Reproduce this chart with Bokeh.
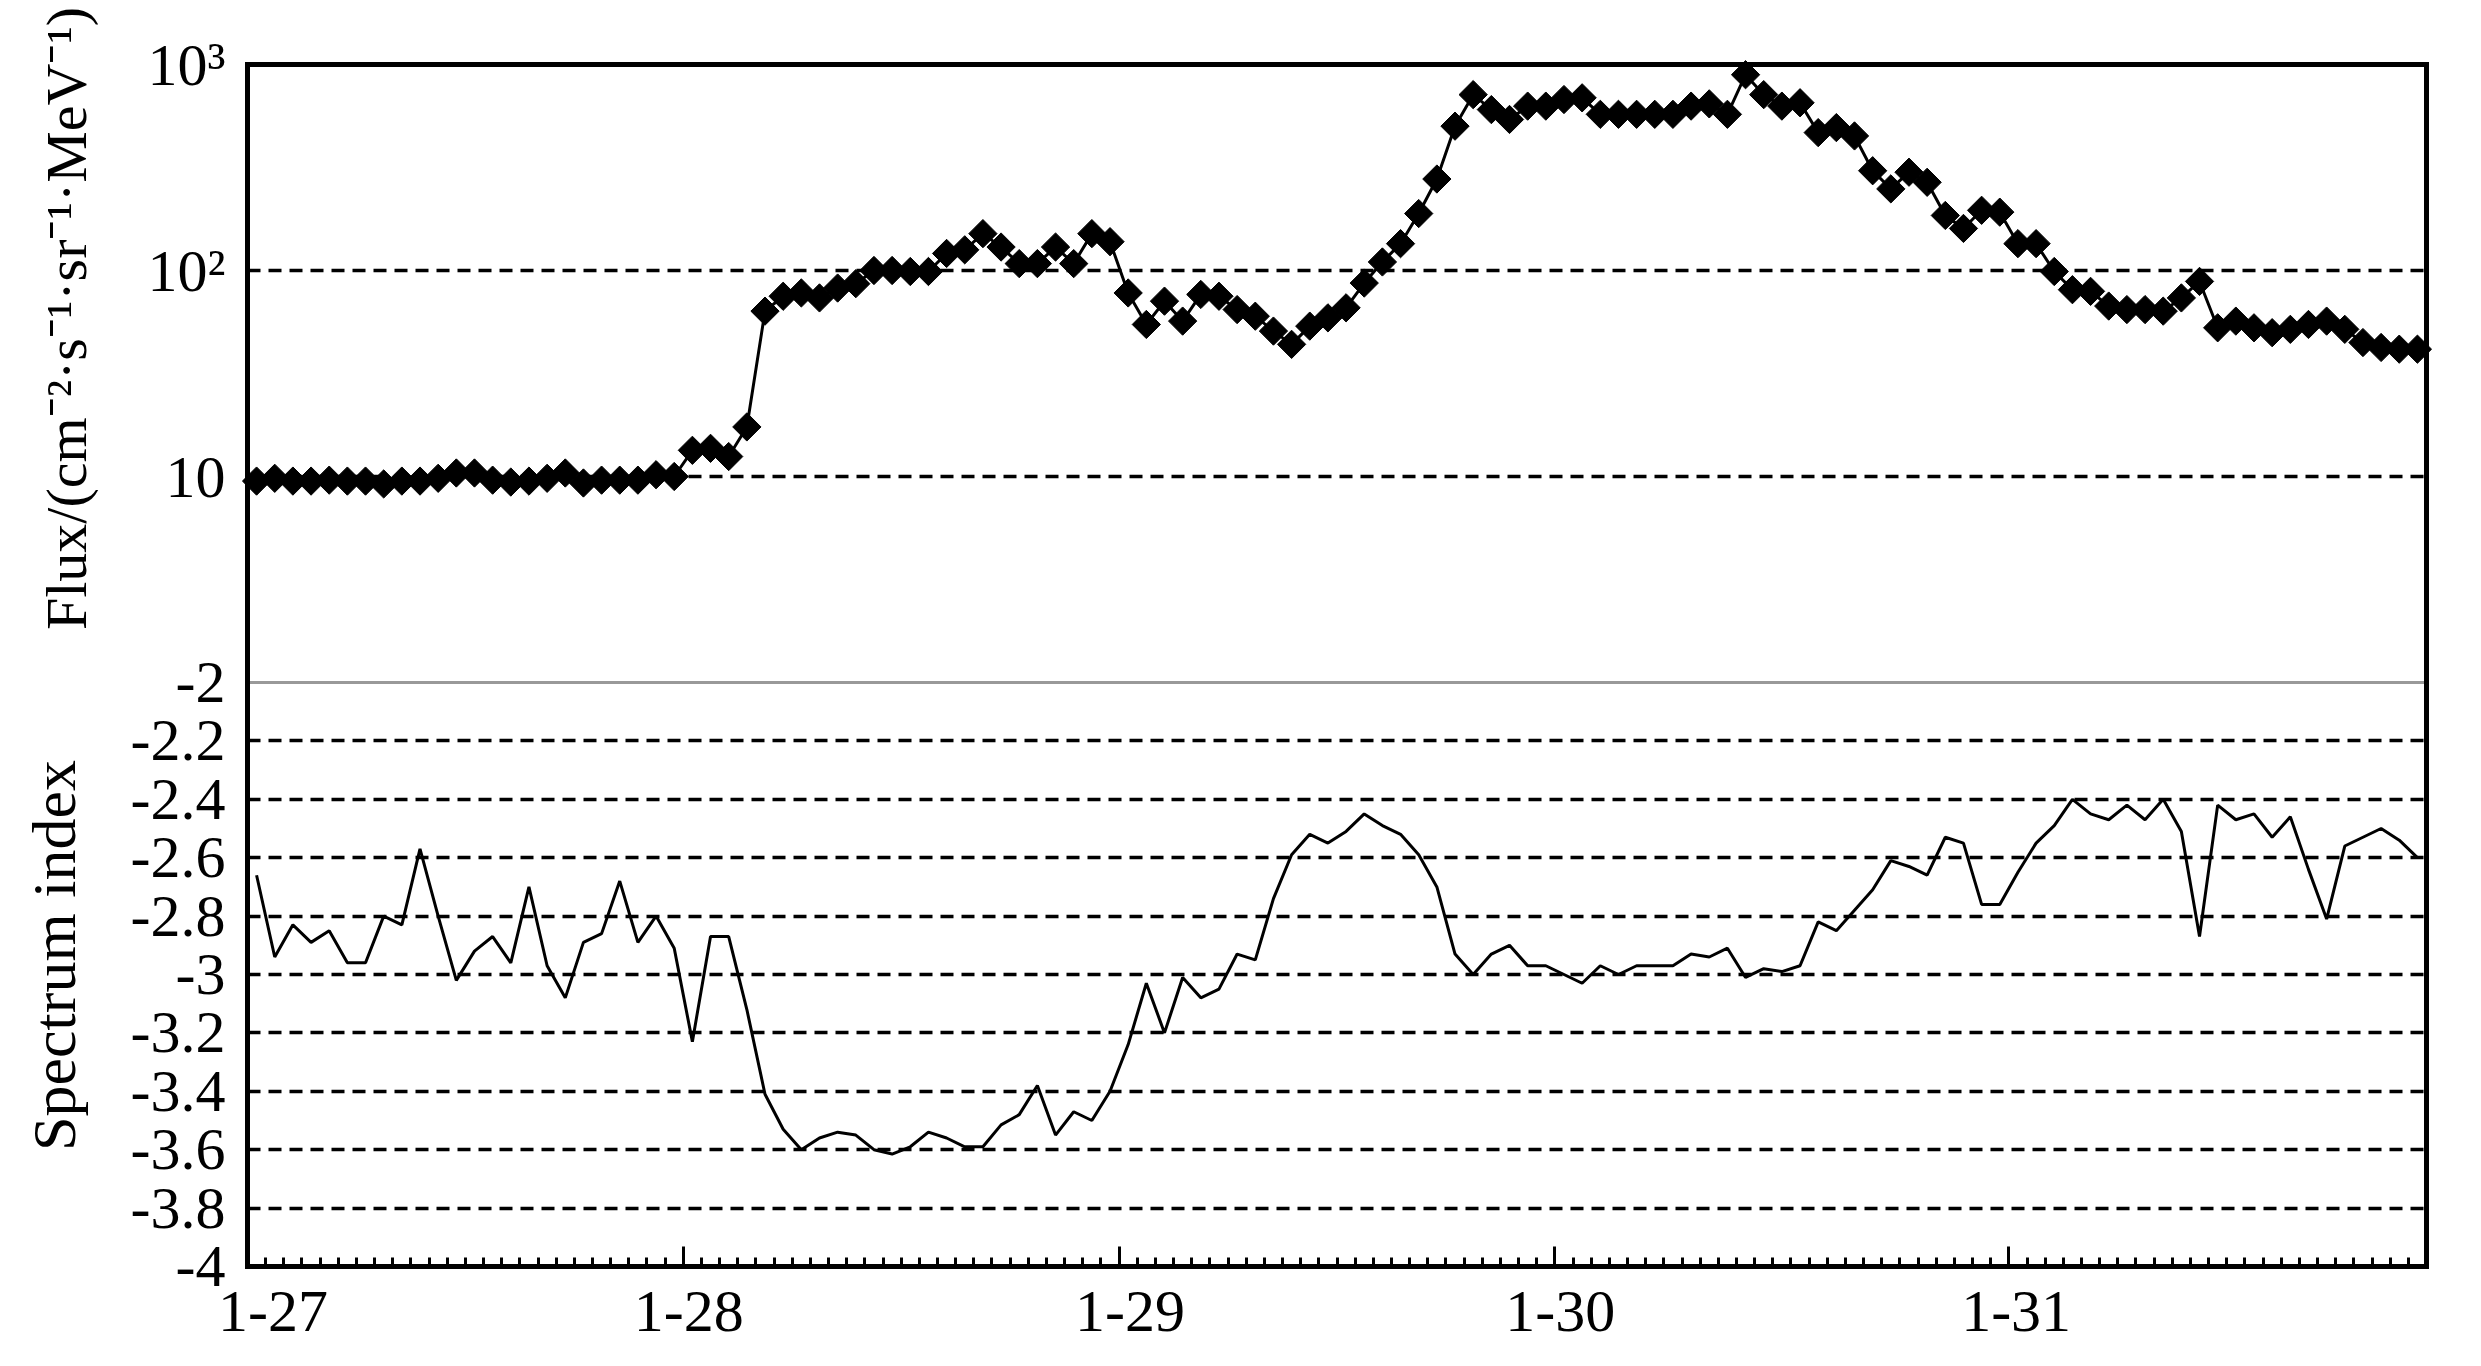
import math
from bokeh.plotting import figure
from bokeh.models import Range1d, FixedTicker, LinearAxis, LogAxis, LogScale, Grid, Label
from bokeh.embed import file_html
from bokeh.resources import INLINE

# ---------------- data (hourly, 1-27 00:00 .. 1-31 23:00) ----------------
hours = list(range(120))

flux = [
    9.5, 9.8, 9.5, 9.5, 9.6, 9.5, 9.5, 9.2, 9.5, 9.5,
    9.8, 10.4, 10.4, 9.6, 9.4, 9.5, 9.8, 10.4, 9.3, 9.6,
    9.6, 9.6, 10.2, 10.0, 13.4, 13.7, 12.5, 17.4, 63.5, 75,
    77.8, 73.6, 82.2, 86.3, 100, 100, 98.9, 98.9, 121, 126,
    151, 130, 108, 108, 130, 108, 151, 138, 77.8, 54.7,
    71, 56.8, 76.5, 75, 64.6, 60, 50.8, 43.8, 53.7, 58.9,
    65.9, 86.9, 110, 135, 189, 278, 502, 714, 604, 541,
    628, 628, 676, 689, 573, 573, 573, 573, 573, 628,
    644, 573, 892, 714, 628, 652, 467, 494, 450, 305,
    249, 300, 268, 185, 160, 196, 192, 135, 135, 98.9,
    80.7, 79.2, 67.2, 64.6, 64.6, 63.5, 73.6, 88.5, 52.7, 56.8,
    52.7, 49.9, 51.8, 54.7, 56.8, 51.8, 44.7, 42.3, 41.5, 41.5,
]

spectrum_index = [
    -2.66, -2.94, -2.83, -2.89, -2.85, -2.96, -2.96, -2.80, -2.83, -2.57,
    -2.80, -3.02, -2.92, -2.87, -2.96, -2.70, -2.97, -3.08, -2.89, -2.86,
    -2.68, -2.89, -2.80, -2.91, -3.23, -2.87, -2.87, -3.12, -3.41, -3.53,
    -3.60, -3.56, -3.54, -3.55, -3.60, -3.615, -3.59, -3.54, -3.56, -3.59,
    -3.59, -3.515, -3.48, -3.38, -3.55, -3.47, -3.50, -3.40, -3.24, -3.03,
    -3.20, -3.01, -3.08, -3.05, -2.93, -2.95, -2.74, -2.59, -2.52, -2.55,
    -2.51, -2.45, -2.49, -2.52, -2.59, -2.70, -2.93, -3.00, -2.93, -2.90,
    -2.97, -2.97, -3.00, -3.03, -2.97, -3.00, -2.97, -2.97, -2.97, -2.93,
    -2.94, -2.91, -3.01, -2.98, -2.99, -2.97, -2.82, -2.85, -2.78, -2.71,
    -2.61, -2.63, -2.66, -2.53, -2.55, -2.76, -2.76, -2.65, -2.55, -2.49,
    -2.40, -2.45, -2.47, -2.42, -2.47, -2.40, -2.51, -2.87, -2.42, -2.47,
    -2.45, -2.53, -2.46, -2.64, -2.81, -2.56, -2.53, -2.50, -2.54, -2.60,
]

day_ticks = [0, 24, 48, 72, 97]                 # day boundaries (hours)
day_label_pos = [1.4, 24.3, 48.6, 72.3, 97.4]   # where the day labels sit
day_labels = ["1-27", "1-28", "1-29", "1-30", "1-31"]

flux_ticks = [10, 100, 1000]
flux_labels = ["10", "10\u00b2", "10\u00b3"]
flux_grid = [10, 100]

idx_ticks = [-2.0, -2.2, -2.4, -2.6, -2.8, -3.0, -3.2, -3.4, -3.6, -3.8, -4.0]
idx_labels = ["-2", "-2.2", "-2.4", "-2.6", "-2.8", "-3", "-3.2", "-3.4", "-3.6", "-3.8", "-4"]
idx_grid = [-2.2, -2.4, -2.6, -2.8, -3.0, -3.2, -3.4, -3.6, -3.8]

flux_title = "Flux/(cm\u207b\u00b2\u00b7s\u207b\u00b9\u00b7sr\u207b\u00b9\u00b7MeV\u207b\u00b9)"
flux_title_at = 58.5      # flux value at the centre of the title
idx_title = "Spectrum index"
idx_title_at = -2.935     # index value at the centre of the title

# ---------------- layout constants (pixels) ----------------
FONT = "Liberation Serif"
TICK_FS = "60px"
FLUX_TITLE_FS = "58px"
IDX_TITLE_FS = "62px"
W, H = 2480, 1360                 # canvas; the frame covers all of it
X0 = 247                          # left edge of the chart box
PX_PER_HOUR = 2179 / 120
PX_PER_DECADE = 206
PX_PER_UNIT = 292
Y_SPLIT = 64 + 3 * PX_PER_DECADE  # flux = 1 / index = -2 boundary
FLUX_TITLE_X = 66                 # anchor of rotated titles
IDX_TITLE_X = 53

x_start = -X0 / PX_PER_HOUR
x_end = (W - X0) / PX_PER_HOUR
idx_top = -2 + Y_SPLIT / PX_PER_UNIT
idx_bottom = -2 - (H - Y_SPLIT) / PX_PER_UNIT
flux_top = 10 ** (Y_SPLIT / PX_PER_DECADE)
flux_bottom = 10 ** (-(H - Y_SPLIT) / PX_PER_DECADE)

x = [h + 0.5 for h in hours]
x_bounds = (0, 120)

p = figure(width=W, height=H, x_range=Range1d(x_start, x_end),
           y_range=Range1d(idx_bottom, idx_top), min_border=0,
           x_axis_location=None, y_axis_location=None,
           output_backend="svg", toolbar_location=None)
p.extra_y_ranges = {"flux": Range1d(flux_bottom, flux_top)}
p.extra_y_scales = {"flux": LogScale()}
p.outline_line_color = None
p.background_fill_color = "white"
p.border_fill_color = "white"
p.grid.visible = False


def style(ax, color="black", width=5):
    ax.axis_line_color = color
    ax.axis_line_width = width
    ax.axis_line_cap = "square"
    ax.major_tick_line_color = None
    ax.minor_tick_line_color = None
    ax.major_tick_in = 0
    ax.major_tick_out = 0
    ax.minor_tick_in = 0
    ax.minor_tick_out = 0
    ax.major_label_text_font = FONT
    ax.major_label_text_font_size = TICK_FS
    ax.major_label_text_color = "black"
    return ax


def bare(cls, **kw):
    return style(cls(ticker=FixedTicker(ticks=[], minor_ticks=[]), **kw))


# ---- grids (dashed)
p.add_layout(Grid(dimension=1, ticker=FixedTicker(ticks=idx_grid), cross_bounds=x_bounds,
                  grid_line_color="black", grid_line_width=3.5, grid_line_dash="13 8"))
p.add_layout(Grid(dimension=1, y_range_name="flux", ticker=FixedTicker(ticks=flux_grid),
                  cross_bounds=x_bounds, grid_line_color="black", grid_line_width=3.5,
                  grid_line_dash="13 8"))

# ---- grey separator at index -2 / flux 1
sep = bare(LinearAxis, fixed_location=-2, bounds=x_bounds)
sep.axis_line_color = "#999999"
sep.axis_line_width = 3
sep.axis_line_cap = "butt"
p.add_layout(sep, "above")

# ---- box: top and right
p.add_layout(bare(LinearAxis, y_range_name="flux", fixed_location=1000, bounds=x_bounds), "above")
p.add_layout(bare(LinearAxis, fixed_location=120, bounds=(-4, -2)), "right")
p.add_layout(bare(LogAxis, y_range_name="flux", fixed_location=120, bounds=(1, 1000)), "right")

# ---- left: spectrum-index axis and flux axis, both on the box edge
ya = style(LinearAxis(fixed_location=0, bounds=(-4, -2),
                      ticker=FixedTicker(ticks=idx_ticks, minor_ticks=[])))
ya.major_label_overrides = dict(zip(idx_ticks, idx_labels))
ya.major_label_standoff = 22
p.add_layout(ya, "left")

fa = style(LogAxis(y_range_name="flux", fixed_location=0, bounds=(1, 1000),
                   ticker=FixedTicker(ticks=flux_ticks, minor_ticks=[])))
fa.major_label_overrides = dict(zip(flux_ticks, flux_labels))
fa.major_label_standoff = 22
p.add_layout(fa, "left")

# ---- bottom: hourly minor ticks, day labels
xa = style(LinearAxis(fixed_location=-4, bounds=x_bounds,
                      ticker=FixedTicker(ticks=day_label_pos, minor_ticks=hours + [120])))
xa.major_label_overrides = dict(zip(day_label_pos, day_labels))
xa.major_label_standoff = 25
xa.minor_tick_line_color = "black"
xa.minor_tick_line_width = 3
xa.minor_tick_in = 9
p.add_layout(xa, "below")

xd = style(LinearAxis(fixed_location=-4, bounds=x_bounds,
                      ticker=FixedTicker(ticks=[], minor_ticks=day_ticks)))
xd.axis_line_color = None
xd.minor_tick_line_color = "black"
xd.minor_tick_line_width = 3
xd.minor_tick_in = 20
p.add_layout(xd, "below")

# ---- axis titles
p.add_layout(Label(x=FLUX_TITLE_X, x_units="screen", y=flux_title_at, y_range_name="flux",
                   text=flux_title, angle=math.pi / 2, text_align="center",
                   text_baseline="alphabetic", text_font=FONT,
                   text_font_size=FLUX_TITLE_FS, text_color="black"))
p.add_layout(Label(x=IDX_TITLE_X, x_units="screen", y=idx_title_at,
                   text=idx_title, angle=math.pi / 2, text_align="center",
                   text_baseline="alphabetic", text_font=FONT,
                   text_font_size=IDX_TITLE_FS, text_color="black"))

# ---- data
p.line(x, spectrum_index, line_color="black", line_width=3)
p.line(x, flux, y_range_name="flux", line_color="black", line_width=3)
p.scatter(x, flux, y_range_name="flux", marker="square", angle=math.pi / 4,
          size=20, fill_color="black", line_color="black")

open("out.html", "w").write(file_html(p, INLINE))
